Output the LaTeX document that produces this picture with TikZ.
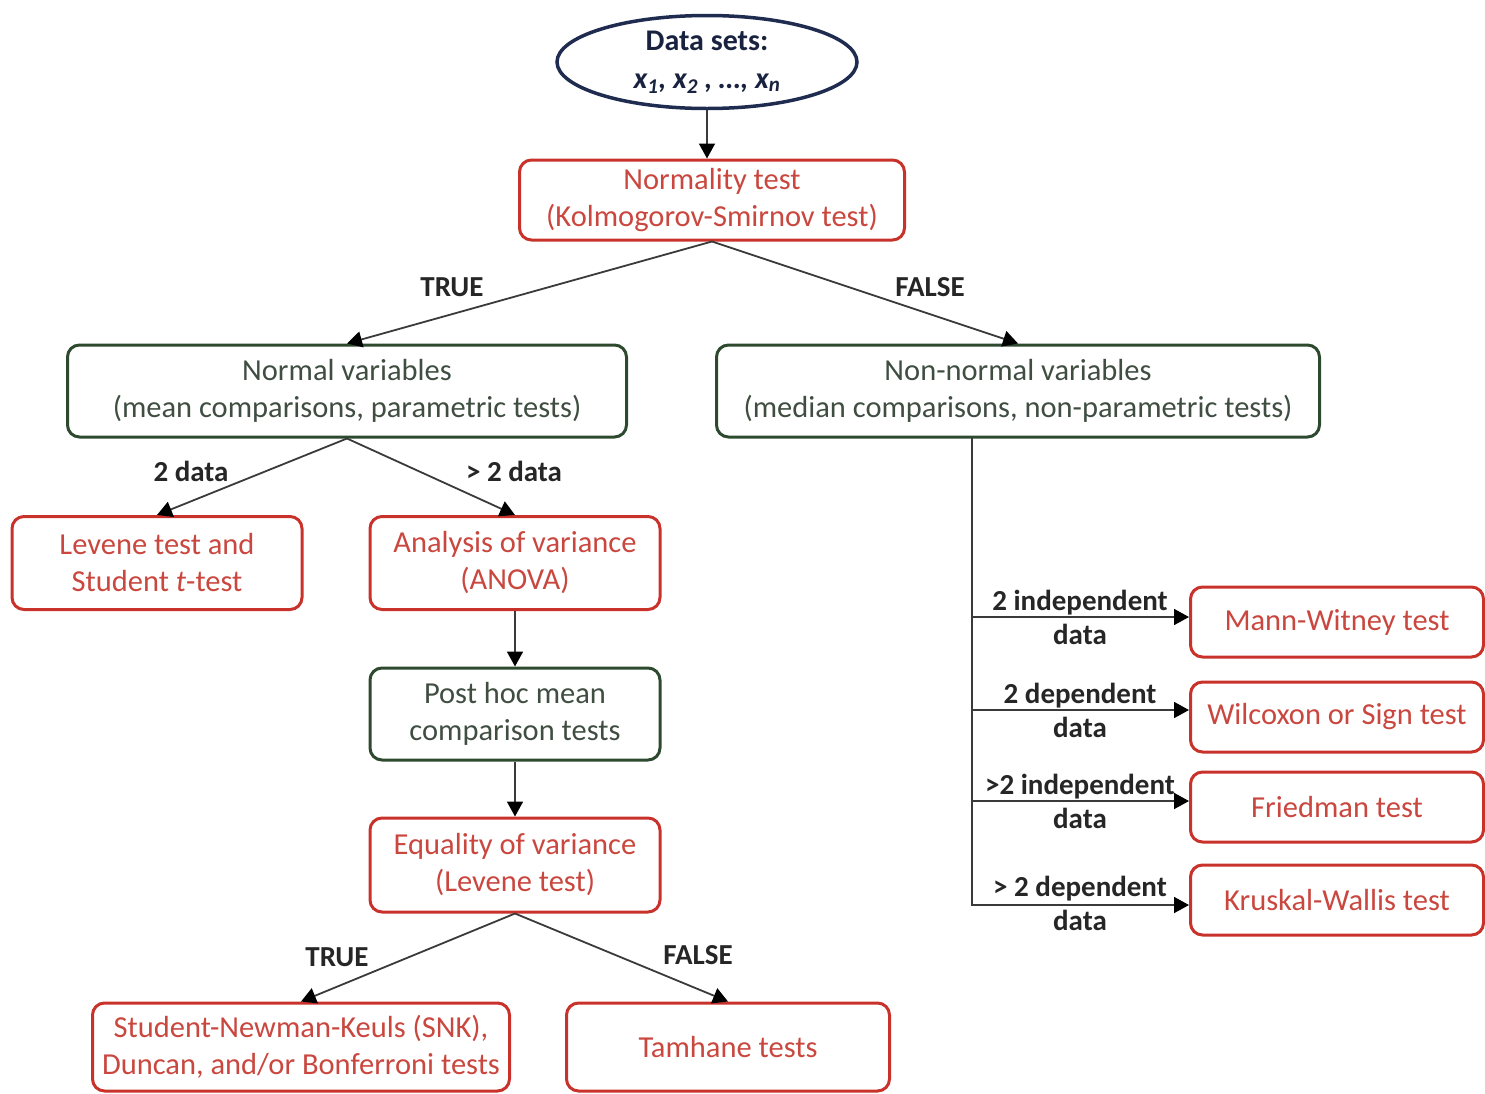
\documentclass[tikz,border=0pt]{standalone}
\usepackage{fontspec}
\setmainfont{Carlito}
\usetikzlibrary{arrows.meta,shapes.geometric}
\definecolor{redb}{HTML}{C8322B}
\definecolor{redt}{HTML}{C9473E}
\definecolor{greenb}{HTML}{2E4A2E}
\definecolor{greent}{HTML}{404E42}
\definecolor{navy}{HTML}{1F2C50}
\definecolor{linec}{HTML}{3A3A3A}
\begin{document}
\begin{tikzpicture}[x=1pt,y=-1pt,
  boxbase/.style={rectangle,line width=3pt,rounded corners=12pt,align=center,inner sep=0pt,
    font=\fontsize{30.5}{37}\selectfont},
  redbox/.style={boxbase,draw=redb,text=redt},
  greenbox/.style={boxbase,draw=greenb,text=greent},
  lbl/.style={font=\fontsize{29}{34}\selectfont\bfseries,text=black!85,align=center,inner sep=0pt},
  ln/.style={draw=linec,line width=1.8pt},
  arr/.style={ln,-{Triangle[length=15pt,width=16pt,color=black]}}]
\useasboundingbox (0,0) rectangle (1485,1093);

% nodes
\node[draw=navy,line width=3.5pt,ellipse,minimum width=300,minimum height=93,inner sep=0pt,
  align=center,text=navy!80!black,font=\fontsize{30}{38}\selectfont\bfseries] (data) at (707,62)
  {Data sets:\\\itshape x\textsubscript{1}, x\textsubscript{2} , …, x\textsubscript{n}};
\node[redbox,minimum width=385,minimum height=80] (norm) at (712,200)
  {Normality test\\(Kolmogorov-Smirnov test)};
\node[greenbox,minimum width=559,minimum height=92] (normal) at (347,391)
  {Normal variables\\(mean comparisons, parametric tests)};
\node[greenbox,minimum width=603,minimum height=92] (nonnorm) at (1018,391)
  {Non-normal variables\\(median comparisons, non-parametric tests)};
\node[redbox,minimum width=290,minimum height=93] (levene) at (157,563)
  {Levene test and\\Student \textit{t}-test};
\node[redbox,minimum width=290,minimum height=93] (anova) at (515,563)
  {Analysis of variance\\(ANOVA)};
\node[greenbox,minimum width=290,minimum height=92] (posthoc) at (515,714)
  {Post hoc mean\\comparison tests};
\node[redbox,minimum width=290,minimum height=94] (equal) at (515,865)
  {Equality of variance\\(Levene test)};
\node[redbox,minimum width=417,minimum height=88] (snk) at (301,1047)
  {Student-Newman-Keuls (SNK),\\Duncan, and/or Bonferroni tests};
\node[redbox,minimum width=323,minimum height=88] (tam) at (728,1047)
  {Tamhane tests};
\node[redbox,minimum width=293,minimum height=70] (mann) at (1337,622) {Mann-Witney test};
\node[redbox,minimum width=293,minimum height=70] (wil) at (1337,717) {Wilcoxon or Sign test};
\node[redbox,minimum width=293,minimum height=70] (fried) at (1337,807) {Friedman test};
\node[redbox,minimum width=293,minimum height=70] (krus) at (1337,900) {Kruskal-Wallis test};

% labels
\node[lbl] (l1) at (452,287) {TRUE};
\node[lbl] (l2) at (930,287) {FALSE};
\node[lbl] (l3) at (191,471) {2 data};
\node[lbl] (l4) at (514,471) {> 2 data};
\node[lbl] (l5) at (337,957) {TRUE};
\node[lbl] (l6) at (698,955) {FALSE};
\node[lbl] (r1) at (1080,617) {2 independent\\data};
\node[lbl] (r2) at (1080,710) {2 dependent\\data};
\node[lbl] (r3) at (1080,801) {>2 independent\\data};
\node[lbl] (r4) at (1080,903) {> 2 dependent\\data};

% connectors
\draw[arr] (data.south) -- (data.south |- norm.north);
\draw[arr] (norm.south) -- (normal.north);
\draw[arr] (norm.south) -- (nonnorm.north);
\draw[arr] (normal.south) -- (levene.north);
\draw[arr] (normal.south) -- (anova.north);
\draw[arr] (anova.south) -- (posthoc.north);
\draw[arr] (posthoc.south) -- (equal.north);
\draw[arr] (equal.south) -- (snk.north);
\draw[arr] (equal.south) -- (tam.north);

\coordinate (t0) at (972,437);
\coordinate (t1) at (972,617);
\coordinate (t2) at (972,710);
\coordinate (t3) at (972,801);
\coordinate (t4) at (972,905);
\draw[arr] (t0) -- (t4) -- (t4 -| krus.west);
\draw[arr] (t1) -- (t1 -| mann.west);
\draw[arr] (t2) -- (t2 -| wil.west);
\draw[arr] (t3) -- (t3 -| fried.west);
\end{tikzpicture}
\end{document}
